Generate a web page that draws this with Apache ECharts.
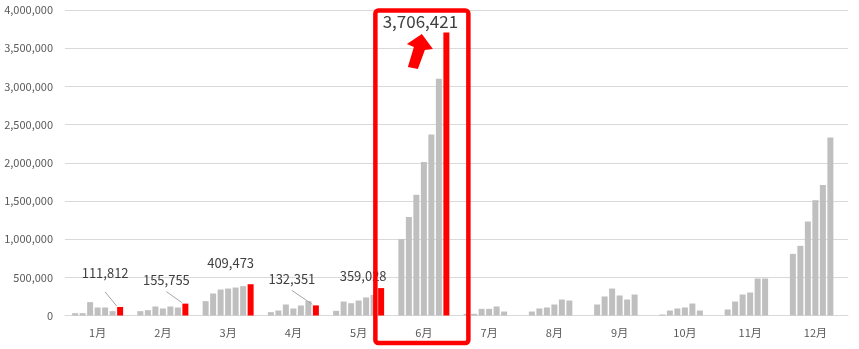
<!DOCTYPE html>
<html>
<head>
<meta charset="utf-8">
<script src="https://cdn.jsdelivr.net/npm/echarts@6/dist/echarts.min.js"></script>
<style>
html,body{margin:0;padding:0;background:#fff;}
#c{width:859px;height:349px;}
</style>
</head>
<body>
<div id="c"></div>
<script>
const months = ['1月','2月','3月','4月','5月','6月','7月','8月','9月','10月','11月','12月'];
const s1 = [30000, 57000, 188000, 44000, 61000, 1000000, 22000, 52000, 144000, 13000, 79000, 807000];
const s2 = [30000, 70000, 288000, 65000, 183000, 1290000, 22000, 92000, 249000, 65000, 183000, 912000];
const s3 = [175000, 118000, 340000, 144000, 161000, 1580000, 87000, 105000, 353000, 92000, 275000, 1230000];
const s4 = [105000, 92000, 353000, 92000, 196000, 2010000, 87000, 144000, 262000, 105000, 301000, 1510000];
const s5 = [105000, 118000, 366000, 131000, 236000, 2370000, 118000, 209000, 209000, 157000, 484000, 1710000];
const s6 = [57000, 105000, 384000, 188000, 270000, 3100000, 52000, 196000, 275000, 65000, 484000, 2330000];
const latest = [111812, 155755, 409473, 132351, 359028, 3706421, null, null, null, null, null, null];
const yMax = 4000000, yStep = 500000;
const highlightMonth = '6月';

// label layout offsets for the highlighted (red) series; lineY = leader start above bar top
const labelShift = [
  {dx:-15, dy:-22, lineY:-15},
  {dx:-19, dy:-12, lineY:-12},
  {dx:-20, dy:-10},
  {dx:-24, dy:-15, lineY:-15},
  {dx:-18, dy:-1},
  {dx:-26, dy:3}
];

const fmt = v => Number(v).toLocaleString('en-US');
const chart = echarts.init(document.getElementById('c'), null, {renderer:'canvas'});

const gray = '#bfbfbf';
const grays = [s1,s2,s3,s4,s5,s6].map(d => ({
  type:'bar', data:d, barWidth:6, barGap:'25%',
  itemStyle:{color:gray}, silent:true
}));

const redData = latest.map((v,i) => {
  if (v == null) return null;
  const big = months[i] === highlightMonth;
  return {value: v, label: {fontSize: big ? 17 : 13}};
});

chart.setOption({
  animation:false,
  backgroundColor:'#ffffff',
  grid:{left:65, right:11, top:10, bottom:33.5, containLabel:false},
  xAxis:{
    type:'category', data:months,
    axisLine:{lineStyle:{color:'#d9d9d9', width:1}},
    axisTick:{show:false},
    axisLabel:{color:'#595959', fontSize:11, margin:12, fontFamily:'"Noto Sans CJK JP", sans-serif'}
  },
  yAxis:{
    type:'value', min:0, max:yMax, interval:yStep,
    axisLine:{show:false}, axisTick:{show:false},
    splitLine:{lineStyle:{color:'#d9d9d9', width:1}},
    axisLabel:{color:'#595959', fontSize:11, margin:12, formatter:v=>fmt(v), fontFamily:'"Noto Sans CJK JP", sans-serif'}
  },
  series: grays.concat([{
    type:'bar', data:redData, barWidth:6, barGap:'25%',
    itemStyle:{color:'#ff0000'},
    label:{show:true, position:'top', distance:5, color:'#404040', fontSize:13,
      fontFamily:'"Noto Sans CJK JP", sans-serif', formatter:p=>fmt(p.value)},
    labelLayout: function(p){
      const s = labelShift[p.dataIndex];
      return s ? {dx:s.dx, dy:s.dy} : {};
    }
  }])
});

// leader lines from label to red bar top
const graphics = [];
const redSeries = chart.getModel().getSeriesByIndex(6);
const rd = redSeries.getData();
latest.forEach((v,i) => {
  const s = labelShift[i];
  if (v == null || !s || s.lineY == null) return;
  const l = rd.getItemLayout(i);
  const bx = l.x + l.width/2;
  const top = Math.min(l.y, l.y + l.height);
  graphics.push({type:'line', shape:{x1:bx+s.dx, y1:top+s.lineY, x2:bx-3.5, y2:top-1},
    style:{stroke:'#a6a6a6', lineWidth:1}, z:50});
});

// annotation: red box around highlighted month and arrow
const cx = chart.convertToPixel({xAxisIndex:0}, highlightMonth);
const arrowPts = [[-2,34],[9,49],[1,50],[-6,69],[-16,67],[-10,47],[-17,44]].map(p=>[cx+p[0], p[1]]);
graphics.push(
  {type:'rect', shape:{x:cx-48.5, y:10.5, width:93, height:332.5, r:3},
   style:{fill:'none', stroke:'#ff0000', lineWidth:4.5}, z:100},
  {type:'polygon', shape:{points:arrowPts}, style:{fill:'#ff0000'}, z:100}
);
chart.setOption({graphic:graphics});
</script>
</body>
</html>
